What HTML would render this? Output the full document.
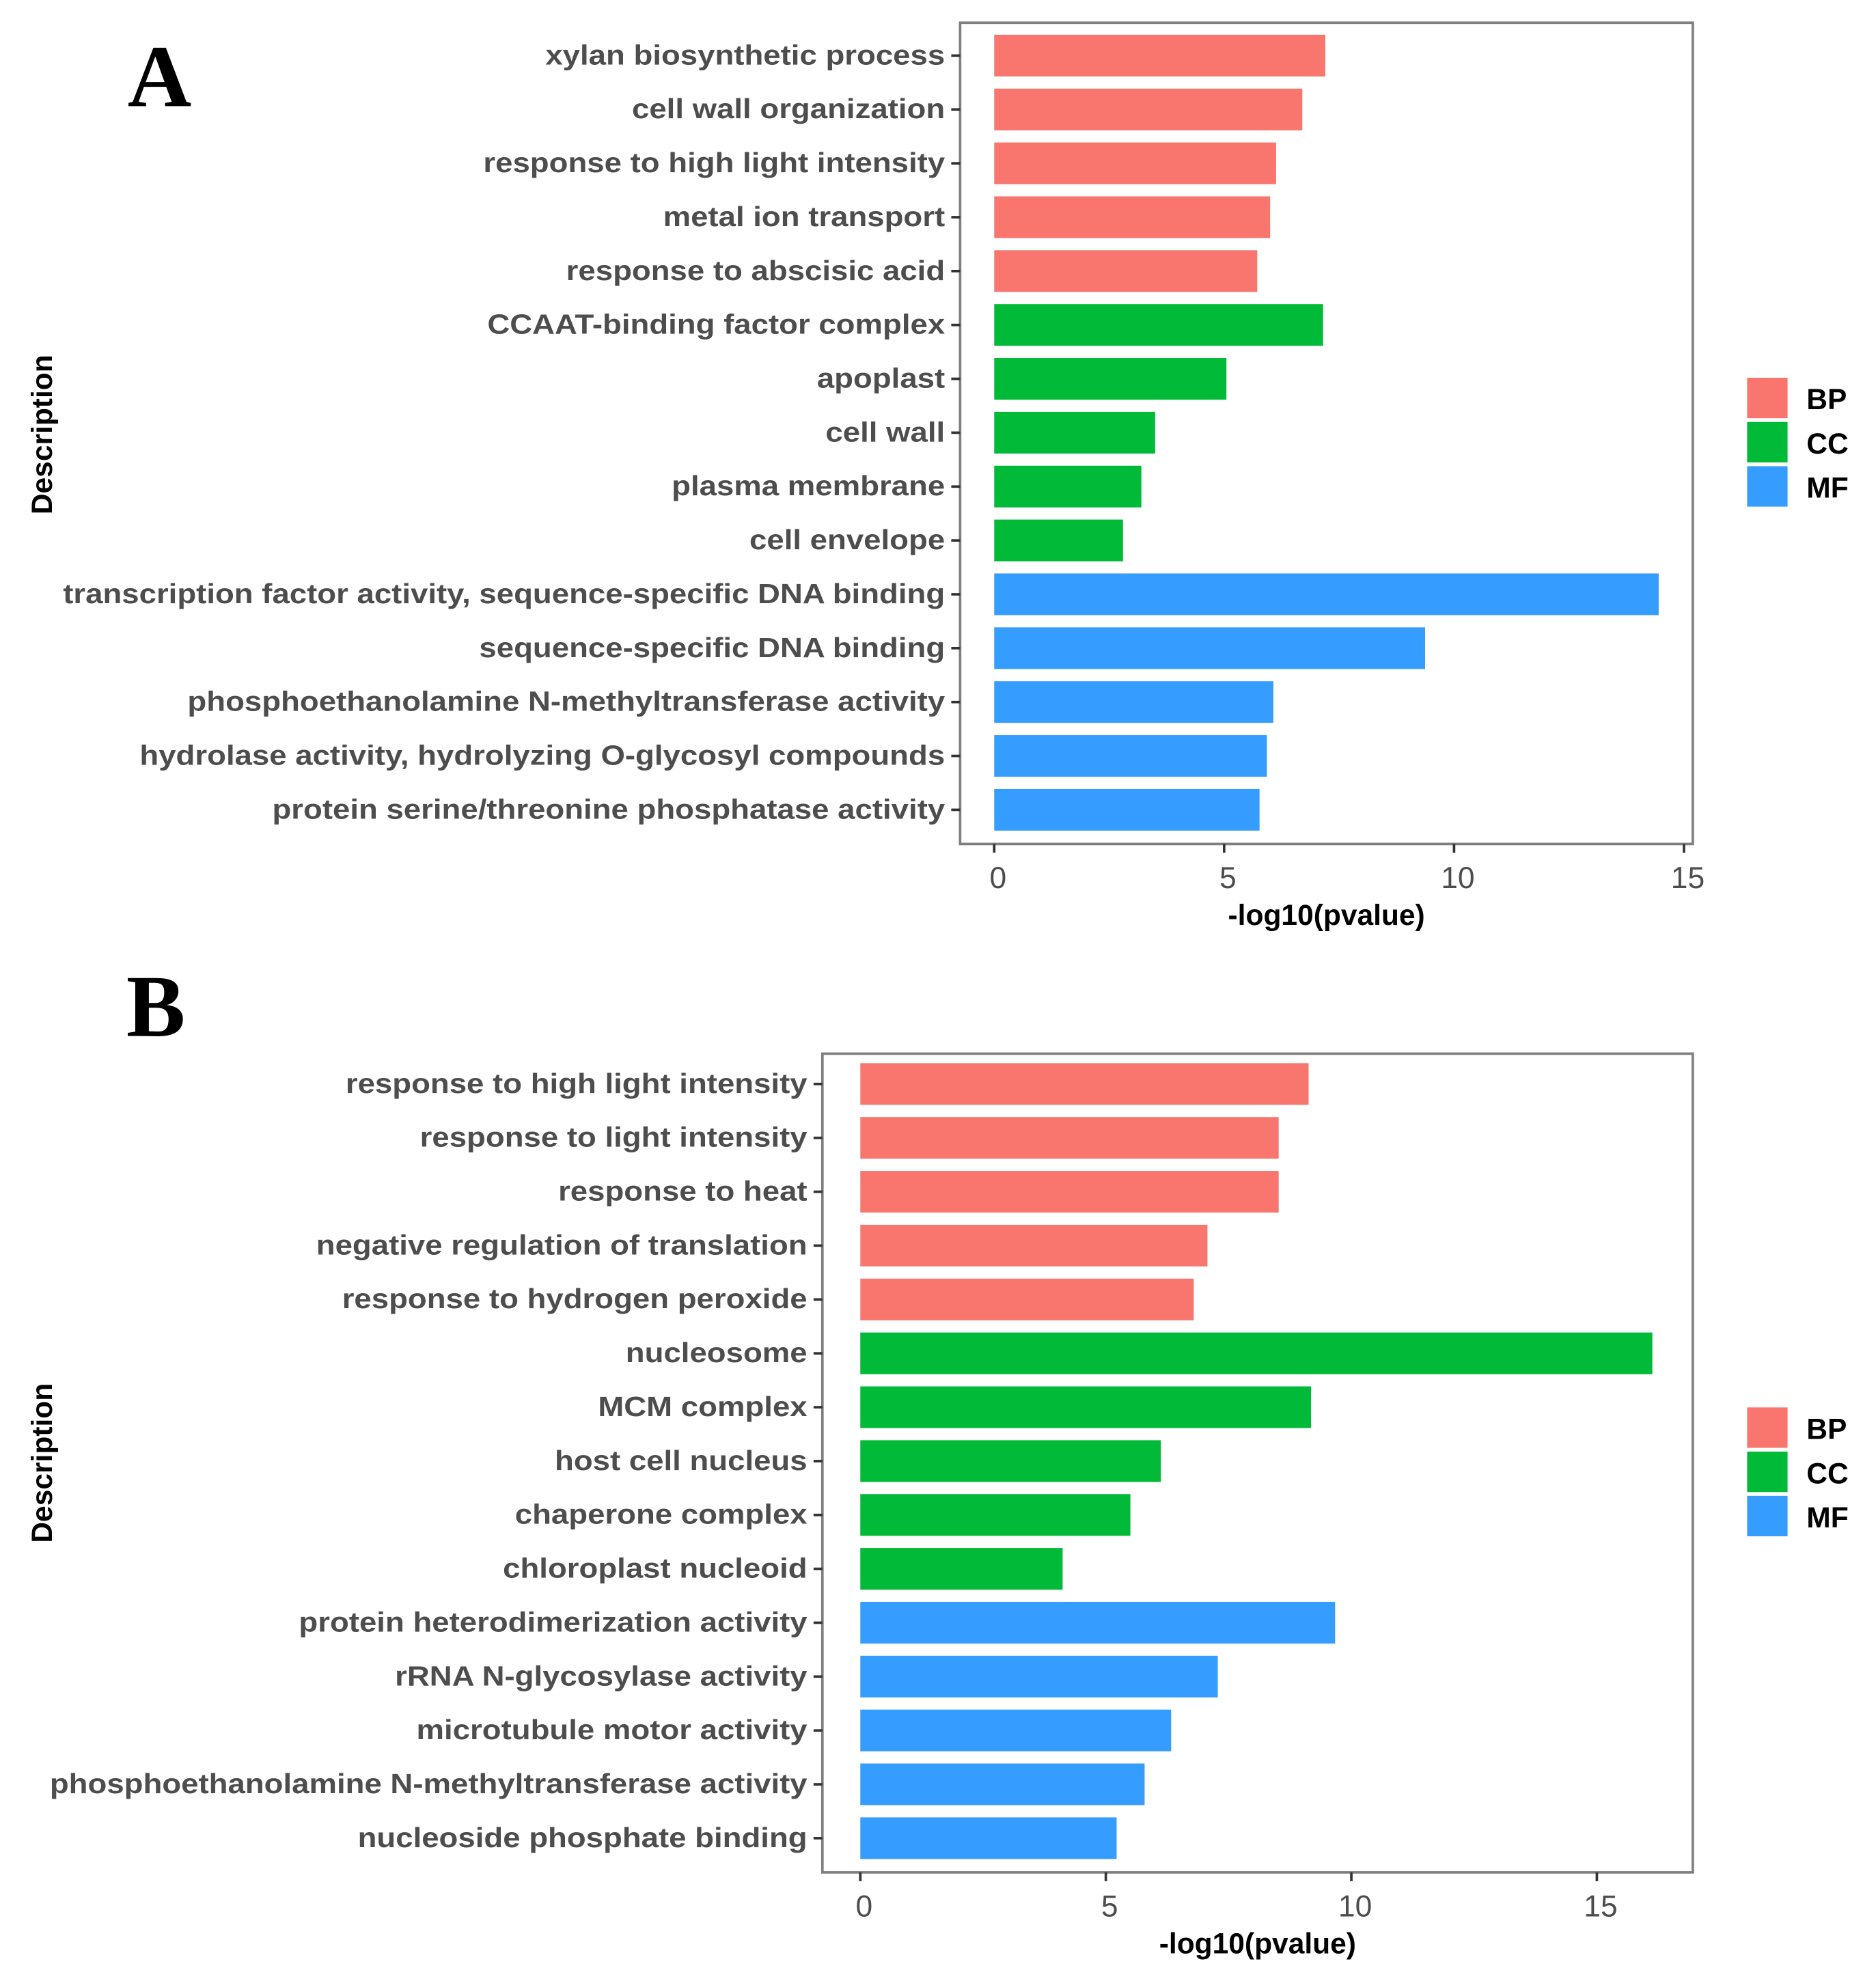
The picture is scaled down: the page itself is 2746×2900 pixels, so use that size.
<!DOCTYPE html>
<html><head><meta charset="utf-8"><style>
html,body{margin:0;padding:0;background:#fff;}
svg{display:block;}
text{font-family:"Liberation Sans",sans-serif;}
</style></head><body>
<svg id="fig" width="2746" height="2900" viewBox="0 0 1485 1568" preserveAspectRatio="none" xmlns="http://www.w3.org/2000/svg">
<rect width="1500" height="1584" fill="#fff"/>
</svg>
<script>
const labelsA = ["xylan biosynthetic process","cell wall organization","response to high light intensity","metal ion transport","response to abscisic acid","CCAAT-binding factor complex","apoplast","cell wall","plasma membrane","cell envelope","transcription factor activity, sequence-specific DNA binding","sequence-specific DNA binding","phosphoethanolamine N-methyltransferase activity","hydrolase activity, hydrolyzing O-glycosyl compounds","protein serine/threonine phosphatase activity"];
const valuesA = [7.2,6.7,6.13,6.0,5.72,7.15,5.05,3.5,3.2,2.8,14.45,9.37,6.07,5.93,5.77];
const categoriesA = ["BP","BP","BP","BP","BP","CC","CC","CC","CC","CC","MF","MF","MF","MF","MF"];
const labelsB = ["response to high light intensity","response to light intensity","response to heat","negative regulation of translation","response to hydrogen peroxide","nucleosome","MCM complex","host cell nucleus","chaperone complex","chloroplast nucleoid","protein heterodimerization activity","rRNA N-glycosylase activity","microtubule motor activity","phosphoethanolamine N-methyltransferase activity","nucleoside phosphate binding"];
const valuesB = [9.13,8.52,8.52,7.07,6.79,16.13,9.18,6.12,5.5,4.12,9.67,7.28,6.33,5.79,5.22];
const categoriesB = ["BP","BP","BP","BP","BP","CC","CC","CC","CC","CC","MF","MF","MF","MF","MF"];
const xTicks = [0,5,10,15];
const legendKeys = ["BP","CC","MF"];

const NS="http://www.w3.org/2000/svg";
const svg=document.getElementById('fig');
const colors={BP:"#F8766D",CC:"#00BA38",MF:"#359DFF"};
function mk(tag,attrs,parent){const e=document.createElementNS(NS,tag);for(const k in attrs)e.setAttribute(k,attrs[k]);(parent||svg).appendChild(e);return e;}

const allLabels=[];
function panel(cfg,labels,values,cats,letter){
  const g=mk('g',{});
  
  
  const xs=v=>cfg.x0+v*cfg.ppu;
  const ys=i=>cfg.firstY+i*cfg.step;
  const frame=mk('rect',{x:cfg.left,y:cfg.top,width:cfg.right-cfg.left,height:cfg.bottom-cfg.top,fill:'#fff',stroke:'#7f7f7f','stroke-width':2},g);
  
  
  values.forEach((v,i)=>{
    const b=mk('rect',{x:xs(0),y:ys(i)-16.5,width:xs(v)-xs(0),height:33,fill:colors[cats[i]]},g);
    
    
    mk('line',{x1:cfg.left-7,x2:cfg.left,y1:ys(i),y2:ys(i),stroke:'#333','stroke-width':2},g);
    const t=mk('text',{x:cfg.left-12,y:ys(i)+7,'text-anchor':'end','font-size':22,'font-weight':'bold',fill:'#4d4d4d'},g);
    t.textContent=labels[i];
    
    
    allLabels.push(t);
  });
  xTicks.forEach(v=>{
    mk('line',{x1:xs(v),x2:xs(v),y1:cfg.bottom,y2:cfg.bottom+7,stroke:'#333','stroke-width':2},g);
    const t=mk('text',{x:xs(v)+3,y:cfg.bottom+35,'text-anchor':'middle','font-size':24,fill:'#4d4d4d'},g);
    t.textContent=v;
    
    
  });
  const xt=mk('text',{x:(cfg.left+cfg.right)/2,y:cfg.bottom+64,'text-anchor':'middle','font-size':23,'font-weight':'bold',fill:'#000'},g);
  xt.textContent='-log10(pvalue)';
  
  
  const yt=mk('text',{x:0,y:0,'text-anchor':'middle','font-size':23,'font-weight':'bold',fill:'#000',transform:`translate(41,${cfg.descY}) rotate(-90)`},g);
  yt.textContent='Description';
  
  
  const L=mk('text',{x:cfg.letterX,y:cfg.letterY,'font-size':70,'font-weight':'bold',fill:'#000',style:'font-family:"Liberation Serif",serif'},g);
  L.textContent=letter;
  
  
  legendKeys.forEach((k,i)=>{
    const r=mk('rect',{x:1383,y:cfg.legTop+i*35,width:32,height:32,fill:colors[k]},g);
    
    
    const t=mk('text',{x:1430,y:cfg.legTop+i*35+25,'font-size':23,'font-weight':'bold',fill:'#000'},g);
    t.textContent=k;
    
    
  });
}
panel({left:760,right:1340,top:18,bottom:668,x0:787,ppu:36.4,firstY:44,step:42.64,descY:344,letterX:101,letterY:84,legTop:299},labelsA,valuesA,categoriesA,'A');
panel({left:651,right:1340,top:834,bottom:1482,x0:681,ppu:38.87,firstY:858,step:42.64,descY:1158,letterX:100,letterY:820,legTop:1114},labelsB,valuesB,categoriesB,'B');

const longest=allLabels[10];
const w=longest.getComputedTextLength();
const s=698/w;
allLabels.forEach(t=>{
  const x=+t.getAttribute('x');
  t.setAttribute('transform',`translate(${x},0) scale(${s},1) translate(${-x},0)`);
});
</script>
</body></html>
